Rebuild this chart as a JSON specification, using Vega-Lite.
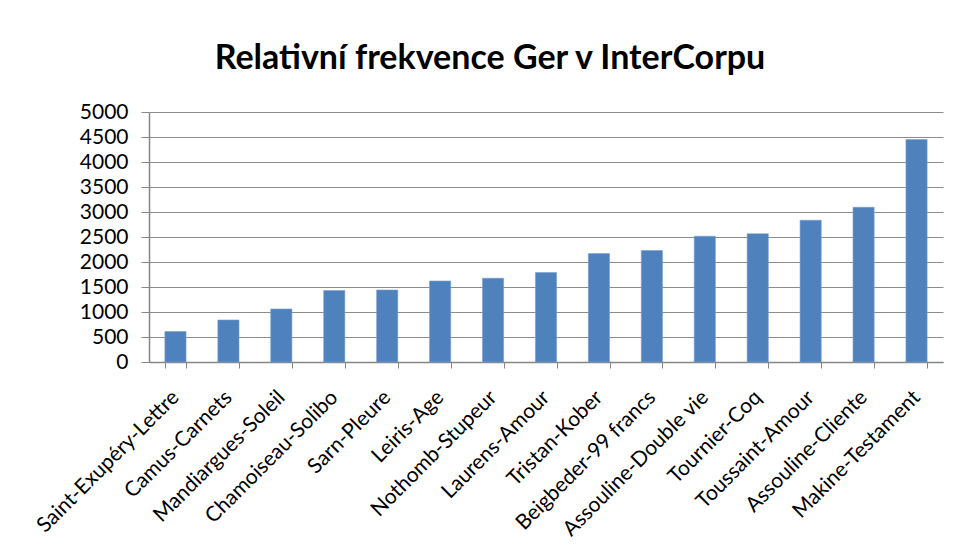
{
  "$schema": "https://vega.github.io/schema/vega-lite/v6.json",
  "width": 794,
  "height": 250,
  "autosize": {"type": "none"},
  "padding": {"left": 149, "top": 112, "right": 14, "bottom": 192},
  "background": "white",
  "title": {
    "text": "Relativní frekvence Ger v InterCorpu",
    "font": "Lato",
    "fontSize": 34,
    "fontWeight": "bold",
    "color": "#000000",
    "anchor": "middle",
    "dx": -56,
    "offset": 25,
    "frame": "group"
  },
  "data": {
    "values": [
      {"text": "Saint-Exupéry-Lettre", "freq": 610},
      {"text": "Camus-Carnets", "freq": 840},
      {"text": "Mandiargues-Soleil", "freq": 1060},
      {"text": "Chamoiseau-Solibo", "freq": 1430},
      {"text": "Sarn-Pleure", "freq": 1440},
      {"text": "Leiris-Age", "freq": 1620},
      {"text": "Nothomb-Stupeur", "freq": 1675},
      {"text": "Laurens-Amour", "freq": 1790},
      {"text": "Tristan-Kober", "freq": 2170},
      {"text": "Beigbeder-99 francs", "freq": 2230},
      {"text": "Assouline-Double vie", "freq": 2515},
      {"text": "Tournier-Coq", "freq": 2565},
      {"text": "Toussaint-Amour", "freq": 2835},
      {"text": "Assouline-Cliente", "freq": 3095},
      {"text": "Makine-Testament", "freq": 4450}
    ]
  },
  "mark": {"type": "bar", "color": "#4F81BD", "stroke": "#7a9fd0", "strokeWidth": 0.6},
  "encoding": {
    "x": {
      "field": "text",
      "type": "nominal",
      "sort": null,
      "scale": {"paddingInner": 0.6, "paddingOuter": 0.3},
      "axis": {
        "title": null,
        "labelAngle": -45,
        "labelAlign": "right",
        "labelBaseline": "middle",
        "labelFont": "Lato",
        "labelFontSize": 21,
        "labelColor": "#000000",
        "labelPadding": 26,
        "labelOverlap": false,
        "labelLimit": 0,
        "tickBand": "extent",
        "tickSize": 6,
        "tickColor": "#868686",
        "domainColor": "#868686",
        "domainWidth": 1.5,
        "grid": false
      }
    },
    "y": {
      "field": "freq",
      "type": "quantitative",
      "scale": {"domain": [0, 5000], "nice": false},
      "axis": {
        "title": null,
        "values": [0, 500, 1000, 1500, 2000, 2500, 3000, 3500, 4000, 4500, 5000],
        "format": "d",
        "labelFont": "Lato",
        "labelFontSize": 21,
        "labelColor": "#000000",
        "labelPadding": 13,
        "tickSize": 8,
        "tickColor": "#868686",
        "domainColor": "#868686",
        "domainWidth": 1.5,
        "grid": true,
        "gridColor": "#8c8c8c",
        "gridWidth": 1.2
      }
    }
  },
  "config": {"view": {"stroke": null}}
}
